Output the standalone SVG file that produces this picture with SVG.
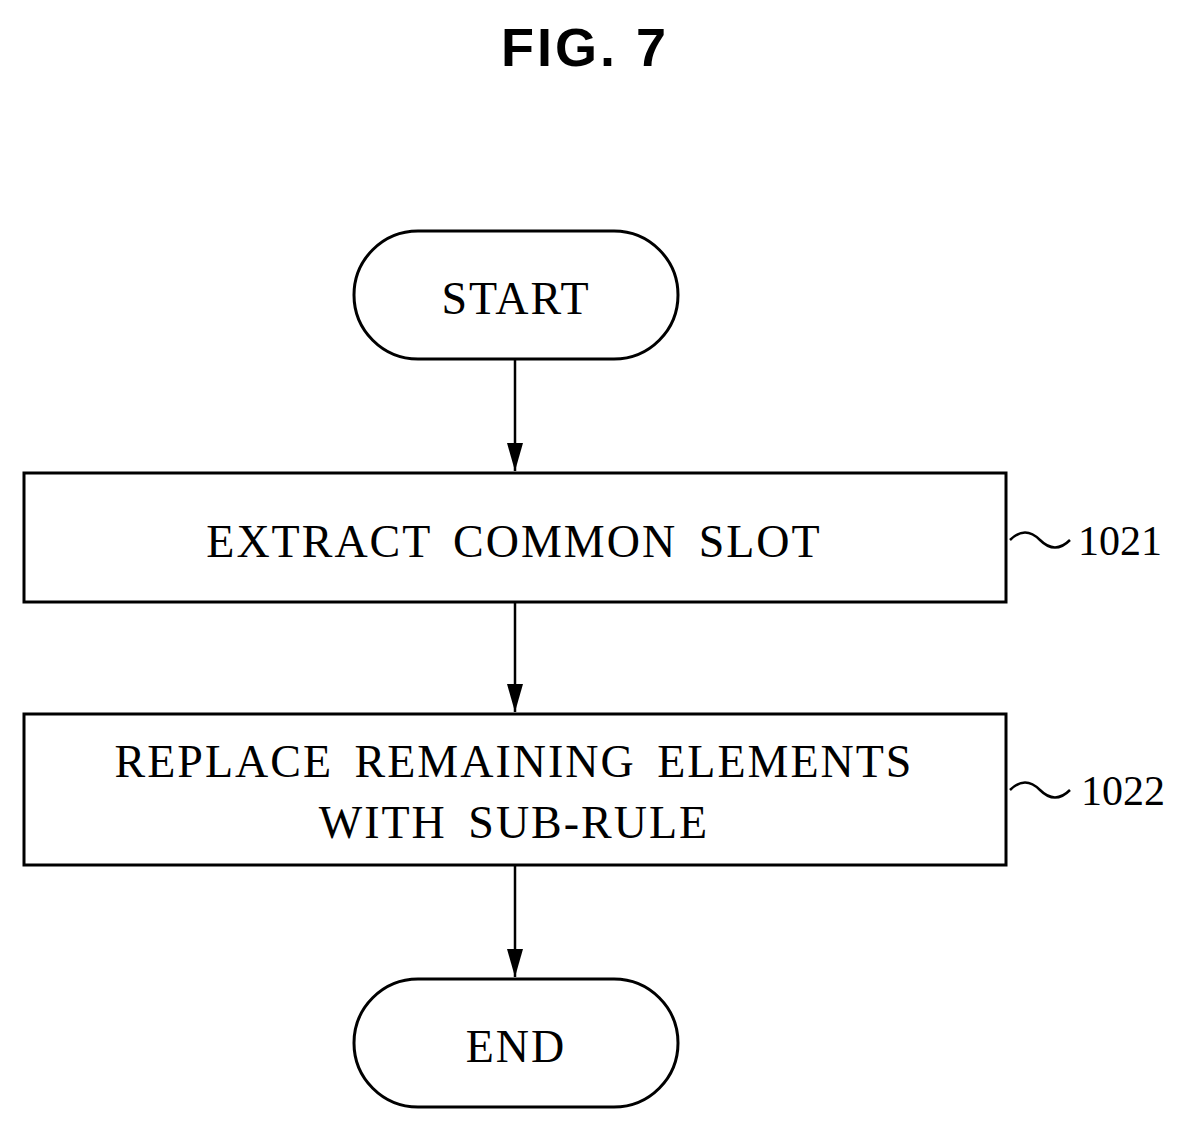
<svg xmlns="http://www.w3.org/2000/svg" width="1193" height="1134" viewBox="0 0 1193 1134">
<style>
.s{fill:#fff;stroke:#000;stroke-width:3}
.t{font-family:"Liberation Serif",serif;font-size:46px;text-anchor:middle;letter-spacing:2px;word-spacing:8px}
.c{stroke:#000;stroke-width:2.5;fill:none}
</style>
<defs><marker id="b" viewBox="0 0 10 10" refX="10" refY="5" markerWidth="28" markerHeight="16" orient="auto" markerUnits="userSpaceOnUse" preserveAspectRatio="none"><path d="M0,0 L10,5 L0,10 Z"/></marker></defs>
<rect width="1193" height="1134" fill="#fff"/>
<text x="585" y="66" font-family="Liberation Sans,sans-serif" font-weight="bold" font-size="54" text-anchor="middle" letter-spacing="3">FIG. 7</text>
<g id="start"><rect class="s" x="354" y="231" width="324" height="128" rx="64"/><text class="t" x="516" y="314">START</text></g>
<g id="n1021"><rect class="s" x="24" y="473" width="982" height="129"/><text class="t" x="514" y="557">EXTRACT COMMON SLOT</text><path class="c" d="M1010,540 q15,-15 30,0 t30,0"/><text class="t" x="1120" y="555" style="font-size:42px;letter-spacing:0">1021</text></g>
<g id="n1022"><rect class="s" x="24" y="714" width="982" height="151"/><text class="t" x="514" y="777">REPLACE REMAINING ELEMENTS</text><text class="t" x="514" y="838">WITH SUB-RULE</text><path class="c" d="M1010,790 q15,-15 30,0 t30,0"/><text class="t" x="1123" y="805" style="font-size:42px;letter-spacing:0">1022</text></g>
<g id="end"><rect class="s" x="354" y="979" width="324" height="128" rx="64"/><text class="t" x="516" y="1062">END</text></g>
<g id="connectors">
<line class="c" x1="515" y1="360" x2="515" y2="471" marker-end="url(#b)"/>
<line class="c" x1="515" y1="603" x2="515" y2="712" marker-end="url(#b)"/>
<line class="c" x1="515" y1="866" x2="515" y2="977" marker-end="url(#b)"/>
</g>
</svg>
